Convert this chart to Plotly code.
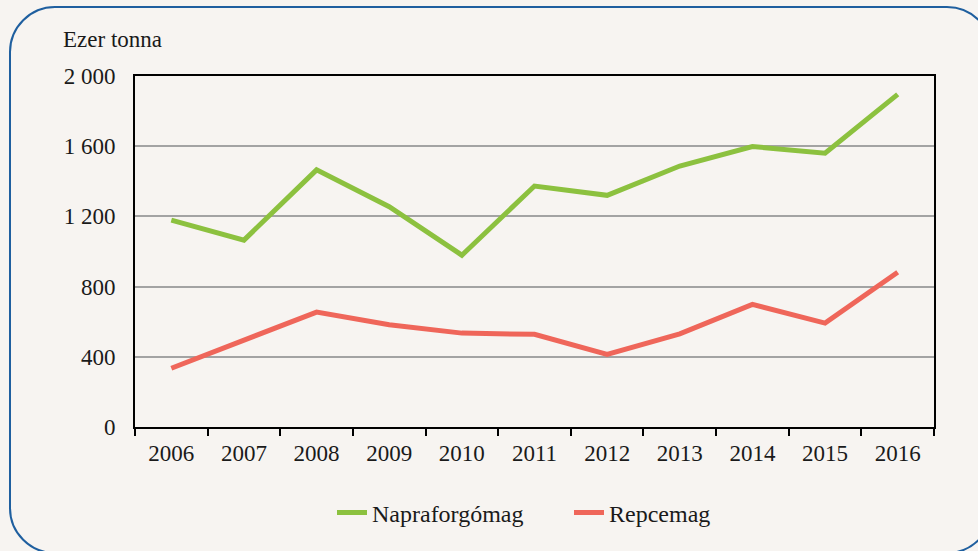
import plotly.graph_objects as go

years = ["2006", "2007", "2008", "2009", "2010", "2011", "2012", "2013", "2014", "2015", "2016"]
napraforgomag = [1179, 1065, 1465, 1255, 979, 1373, 1320, 1487, 1598, 1560, 1895]
repcemag = [335, 497, 655, 583, 535, 528, 413, 531, 699, 592, 882]
y_ticks = [0, 400, 800, 1200, 1600, 2000]
y_ticktext = ["0", "400", "800", "1 200", "1 600", "2 000"]
series_names = ["Napraforgómag", "Repcemag"]
unit_label = "Ezer tonna"

W, H = 978, 551
L, R, T, B = 135, 934, 76, 427  # plot area in pixels
FONT = "Liberation Serif"
BG = "#f7f4f1"
TXT = "#1a1a1a"

def px(x):
    return (x - L) / (R - L)

def py(y):
    return (B - y) / (B - T)

fig = go.Figure()
fig.add_trace(go.Scatter(x=years, y=napraforgomag, mode="lines", name=series_names[0],
                         line=dict(color="#8cc13f", width=5)))
fig.add_trace(go.Scatter(x=years, y=repcemag, mode="lines", name=series_names[1],
                         line=dict(color="#ef665a", width=5)))

# rounded frame
x0, x1, y0, y1, r = 10, 992, 7, 553, 45
k = r * 0.5523
def P(x, y):
    return f"{px(x):.5f},{py(y):.5f}"
path = (f"M {P(x0 + r, y0)} L {P(x1 - r, y0)} "
        f"C {P(x1 - r + k, y0)} {P(x1, y0 + r - k)} {P(x1, y0 + r)} "
        f"L {P(x1, y1 - r)} "
        f"C {P(x1, y1 - r + k)} {P(x1 - r + k, y1)} {P(x1 - r, y1)} "
        f"L {P(x0 + r, y1)} "
        f"C {P(x0 + r - k, y1)} {P(x0, y1 - r + k)} {P(x0, y1 - r)} "
        f"L {P(x0, y0 + r)} "
        f"C {P(x0, y0 + r - k)} {P(x0 + r - k, y0)} {P(x0 + r, y0)} Z")

fig.update_layout(
    width=W, height=H,
    margin=dict(l=L, r=W - R, t=T, b=H - B),
    paper_bgcolor=BG, plot_bgcolor=BG,
    font=dict(family=FONT, size=23, color=TXT),
    showlegend=True,
    legend=dict(orientation="h", x=px(332), xanchor="left", y=py(513), yanchor="middle",
                font=dict(family=FONT, size=24, color=TXT), bgcolor="rgba(0,0,0,0)",
                entrywidth=192, entrywidthmode="pixels", itemwidth=30, tracegroupgap=0),
    shapes=[dict(type="path", xref="paper", yref="paper", path=path,
                 line=dict(color="#1f5f9f", width=2), fillcolor="rgba(0,0,0,0)", layer="below")],
    annotations=[dict(text=unit_label, xref="paper", yref="paper", x=px(61), y=py(40),
                      xanchor="left", yanchor="middle", showarrow=False,
                      font=dict(family=FONT, size=23, color=TXT))],
)
fig.update_xaxes(type="category", showline=True, linecolor="#000000", linewidth=2, mirror=True,
                 ticks="outside", tickson="boundaries", ticklen=7, tickwidth=2, tickcolor="#000000",
                 showgrid=False, ticklabelstandoff=4, range=[-0.5, 10.5])
fig.update_yaxes(range=[0, 2000], tickvals=y_ticks, ticktext=y_ticktext, showline=True,
                 linecolor="#000000", linewidth=2, mirror=True, ticks="", showgrid=True,
                 gridcolor="#a3a3a3", gridwidth=1.5, zeroline=False, ticklabelstandoff=13)

fig.write_html("out.html", config={"displayModeBar": False},
               post_script="document.body.style.margin='0';document.body.style.background='#f7f4f1';")
